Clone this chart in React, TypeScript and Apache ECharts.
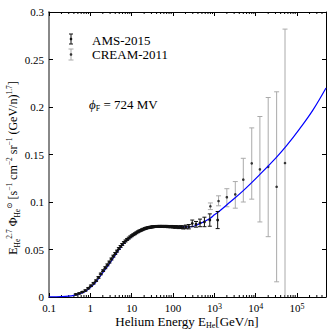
import React, { useEffect, useRef } from "react";
import * as echarts from "echarts";

// ---------- data ----------
// AMS-2015 helium (kinetic energy per nucleon, GeV/n)
const amsEnergy = [
  0.446, 0.537, 0.64, 0.758, 0.89, 1.033, 1.198, 1.375, 1.573, 1.793, 2.034, 2.296,
  2.585, 2.893, 3.234, 3.6, 3.998, 4.425, 4.894, 5.388, 5.907, 6.478, 7.098, 7.768,
  8.489, 9.261, 10.08, 10.98, 11.95, 12.97, 14.07, 15.25, 16.49, 17.84, 19.29, 20.84,
  22.49, 24.26, 26.16, 28.18, 30.36, 32.71, 35.23, 37.93, 40.83, 43.95, 47.33, 51.08,
  55.08, 59.33, 64.08, 69.58, 75.83, 82.83, 90.83, 99.83, 110.1, 122.1, 136.6, 154.1,
  176.3, 204.1, 240.6, 291.1, 359.8, 449.1, 574.1, 774.1, 1199,
];
const amsFlux = [
  0.0028, 0.0038, 0.0052, 0.0068, 0.0092, 0.0118, 0.0145, 0.0172, 0.0206, 0.0243, 0.0277, 0.0308,
  0.0338, 0.0368, 0.0400, 0.0430, 0.0458, 0.0483, 0.0510, 0.0532, 0.0553, 0.0573, 0.0590, 0.0606,
  0.0620, 0.0633, 0.0645, 0.0656, 0.0666, 0.0676, 0.0686, 0.0694, 0.0701, 0.0708, 0.0714, 0.0720,
  0.0725, 0.0729, 0.0732, 0.0735, 0.0737, 0.0739, 0.0741, 0.0742, 0.0743, 0.0743, 0.0744, 0.0743,
  0.0744, 0.0743, 0.0742, 0.0743, 0.0741, 0.0740, 0.0741, 0.0739, 0.0737, 0.0738, 0.0734, 0.0736,
  0.0733, 0.0738, 0.0740, 0.0775, 0.0765, 0.0780, 0.0790, 0.0810, 0.0810,
];
const amsErr = [
  0.0006, 0.0006, 0.0006, 0.0007, 0.0007, 0.0008, 0.0008, 0.0008, 0.0009, 0.0009, 0.0009, 0.0010,
  0.0010, 0.0010, 0.0010, 0.0010, 0.0010, 0.0010, 0.0010, 0.0010, 0.0010, 0.0010, 0.0010, 0.0010,
  0.0010, 0.0010, 0.0010, 0.0010, 0.0010, 0.0010, 0.0010, 0.0010, 0.0010, 0.0010, 0.0010, 0.0010,
  0.0010, 0.0010, 0.0010, 0.0010, 0.0010, 0.0010, 0.0010, 0.0010, 0.0010, 0.0010, 0.0010, 0.0010,
  0.0010, 0.0010, 0.0011, 0.0011, 0.0011, 0.0011, 0.0012, 0.0012, 0.0013, 0.0013, 0.0014, 0.0015,
  0.0017, 0.0019, 0.0023, 0.0035, 0.003, 0.004, 0.005, 0.0065, 0.009,
];

// CREAM-2011 helium
const creamEnergy = [800, 1260, 2000, 3200, 5000, 8000, 12600, 20000, 32000, 51000];
const creamFlux = [0.0955, 0.101, 0.105, 0.108, 0.1235, 0.1407, 0.1344, 0.137, 0.116, 0.141];
const creamLow = [0.092, 0.096, 0.095, 0.0935, 0.1, 0.103, 0.079, 0.0635, 0.016, -0.02];
const creamHigh = [0.099, 0.1065, 0.114, 0.1215, 0.146, 0.178, 0.19, 0.21, 0.216, 0.282];

// Force-field model curve (phi_F = 724 MV)
const modelEnergy = [
  0.1, 0.15, 0.2, 0.3, 0.4, 0.5, 0.74, 1.0, 1.3, 1.92, 3.0, 4.0, 5.0, 7.0, 10, 14, 21, 32,
  63, 126, 250, 457, 794, 1000, 1380, 2400, 5000, 12600, 31600, 55000, 115000, 243000, 500000,
];
const modelFlux = [
  0.00003, 0.0001, 0.0003, 0.0009, 0.0017, 0.0028, 0.0055, 0.01, 0.0145, 0.0245, 0.036, 0.044,
  0.05, 0.058, 0.0635, 0.068, 0.0715, 0.0732, 0.074, 0.0738, 0.0737, 0.0775, 0.083, 0.0865,
  0.091, 0.1, 0.112, 0.129, 0.147, 0.159, 0.177, 0.197, 0.22,
];

const xMin = 0.1;
const xMax = 500000;
const yMin = 0;
const yMax = 0.3;
const yStep = 0.05;

const SERIF = "'Liberation Serif', 'DejaVu Serif', serif";

export default function App() {
  const ref = useRef<HTMLDivElement>(null);

  useEffect(() => {
    if (!ref.current) return;
    const chart = echarts.init(ref.current, undefined, { renderer: "svg" });

    const amsData = amsEnergy.map((e, i) => [e, amsFlux[i], amsFlux[i] - amsErr[i], amsFlux[i] + amsErr[i]]);
    const creamData = creamEnergy.map((e, i) => [e, creamFlux[i], creamLow[i], creamHigh[i]]);
    const modelData = modelEnergy.map((e, i) => [e, modelFlux[i]]);

    // minor tick positions of the log axis (2..9 x 10^k)
    const minorTicks: number[][] = [];
    for (let k = -1; k <= 5; k++) {
      for (let m = 2; m <= 9; m++) {
        const v = m * Math.pow(10, k);
        if (v < xMax) minorTicks.push([v]);
      }
    }

    const errRender = (cap: number, barColor: string, dotColor: string, r: number) => (params: any, api: any) => {
      const x = api.value(0);
      const y = api.value(1);
      const lo = api.value(2);
      const hi = api.value(3);
      const p = api.coord([x, y]);
      const pl = api.coord([x, lo]);
      const ph = api.coord([x, hi]);
      const ls = { stroke: barColor, lineWidth: 1 };
      return {
        type: "group",
        children: [
          { type: "line", shape: { x1: pl[0], y1: pl[1], x2: ph[0], y2: ph[1] }, style: ls },
          { type: "line", shape: { x1: pl[0] - cap, y1: pl[1], x2: pl[0] + cap, y2: pl[1] }, style: ls },
          { type: "line", shape: { x1: ph[0] - cap, y1: ph[1], x2: ph[0] + cap, y2: ph[1] }, style: ls },
          { type: "circle", shape: { cx: p[0], cy: p[1], r }, style: { fill: dotColor } },
        ],
      };
    };

    const xLabel = (v: number) => {
      const lg = Math.log10(v);
      const k = Math.round(lg);
      if (Math.abs(lg - k) > 0.01) return "";
      if (k <= 2) return String(Number(Math.pow(10, k).toFixed(1)));
      return "10{sup|" + k + "}";
    };

    const xAxisBase = {
      type: "log",
      logBase: 10,
      min: xMin,
      max: xMax,
      interval: 1,
      splitNumber: 7,
      gridIndex: 0,
      splitLine: { show: false },
      axisLine: { show: true, onZero: false, lineStyle: { color: "#000", width: 1 } },
      axisTick: { show: true, inside: true, length: 4, lineStyle: { color: "#000", width: 1 } },
    };
    const yAxisBase = {
      type: "value",
      min: yMin,
      max: yMax,
      interval: yStep,
      gridIndex: 0,
      splitLine: { show: false },
      axisTick: { show: true, inside: true, length: 4, lineStyle: { color: "#000", width: 1 } },
    };

    chart.setOption({
      animation: false,
      backgroundColor: "#fff",
      grid: { left: 49, top: 12, width: 277, height: 285, containLabel: false },
      xAxis: [
        {
          ...xAxisBase,
          position: "bottom",
          axisLabel: {
            show: true,
            margin: 5,
            color: "#000",
            fontFamily: SERIF,
            fontSize: 11,
            showMaxLabel: false,
            formatter: xLabel,
            rich: {
              sup: { fontSize: 8, fontFamily: SERIF, color: "#000", verticalAlign: "top", lineHeight: 8 },
            },
          },
        },
        { ...xAxisBase, position: "top", axisLabel: { show: false } },
      ],
      yAxis: [
        {
          ...yAxisBase,
          position: "left",
          axisLine: { show: true, onZero: false, lineStyle: { color: "#888", width: 2 } },
          axisLabel: {
            show: true,
            margin: 5,
            color: "#000",
            fontFamily: SERIF,
            fontSize: 11,
            formatter: (v: number) => String(Math.round(v * 100) / 100),
          },
        },
        {
          ...yAxisBase,
          position: "right",
          axisLine: { show: true, onZero: false, lineStyle: { color: "#000", width: 1 } },
          axisLabel: { show: false },
        },
      ],
      series: [
        {
          type: "custom",
          name: "minorTicks",
          silent: true,
          xAxisIndex: 0,
          yAxisIndex: 0,
          data: minorTicks,
          encode: { x: 0 },
          renderItem: (params: any, api: any) => {
            const v = api.value(0);
            const b = api.coord([v, yMin]);
            const t = api.coord([v, yMax]);
            const ls = { stroke: "#000", lineWidth: 1 };
            return {
              type: "group",
              children: [
                { type: "line", shape: { x1: b[0], y1: b[1], x2: b[0], y2: b[1] - 2 }, style: ls },
                { type: "line", shape: { x1: t[0], y1: t[1], x2: t[0], y2: t[1] + 2 }, style: ls },
              ],
            };
          },
        },
        {
          type: "custom",
          name: "CREAM-2011",
          xAxisIndex: 0,
          yAxisIndex: 0,
          clip: true,
          data: creamData,
          encode: { x: 0, y: [1, 2, 3] },
          renderItem: errRender(2.5, "#aaaaaa", "#333", 1.3),
          z: 3,
        },
        {
          type: "line",
          name: "model",
          xAxisIndex: 0,
          yAxisIndex: 0,
          data: modelData,
          smooth: 0.4,
          showSymbol: false,
          lineStyle: { color: "#0000ff", width: 1.2 },
          z: 4,
        },
        {
          type: "custom",
          name: "AMS-2015",
          xAxisIndex: 0,
          yAxisIndex: 0,
          clip: true,
          data: amsData,
          encode: { x: 0, y: [1, 2, 3] },
          renderItem: errRender(2, "#111", "#111", 1.4),
          z: 5,
        },
      ],
      graphic: [
        // legend
        { type: "line", shape: { x1: 71, y1: 34, x2: 71, y2: 44 }, style: { stroke: "#111", lineWidth: 1 } },
        { type: "line", shape: { x1: 69, y1: 34, x2: 73, y2: 34 }, style: { stroke: "#111", lineWidth: 1 } },
        { type: "line", shape: { x1: 69, y1: 44, x2: 73, y2: 44 }, style: { stroke: "#111", lineWidth: 1 } },
        { type: "circle", shape: { cx: 71, cy: 39, r: 1.3 }, style: { fill: "#111" } },
        {
          type: "text",
          x: 92,
          y: 40,
          style: { text: "AMS-2015", font: "13px " + SERIF, fill: "#000", verticalAlign: "middle", align: "left" },
        },
        { type: "line", shape: { x1: 71, y1: 49, x2: 71, y2: 60 }, style: { stroke: "#aaa", lineWidth: 1 } },
        { type: "line", shape: { x1: 68.5, y1: 49, x2: 73.5, y2: 49 }, style: { stroke: "#aaa", lineWidth: 1 } },
        { type: "line", shape: { x1: 68.5, y1: 60, x2: 73.5, y2: 60 }, style: { stroke: "#aaa", lineWidth: 1 } },
        { type: "circle", shape: { cx: 71, cy: 54.5, r: 1.3 }, style: { fill: "#333" } },
        {
          type: "text",
          x: 92,
          y: 54,
          style: { text: "CREAM-2011", font: "13px " + SERIF, fill: "#000", verticalAlign: "middle", align: "left" },
        },
        // annotation
        {
          type: "text",
          x: 89,
          y: 104,
          style: {
            text: "{i|ϕ}{sub|F}{n| = 724 MV}",
            verticalAlign: "middle",
            align: "left",
            fill: "#000",
            rich: {
              i: { fontFamily: SERIF, fontSize: 13, fontStyle: "italic", lineHeight: 16 },
              sub: { fontFamily: SERIF, fontSize: 8, verticalAlign: "bottom", lineHeight: 16 },
              n: { fontFamily: SERIF, fontSize: 13, lineHeight: 16 },
            },
          },
        },
        // x-axis title
        {
          type: "text",
          x: 187,
          y: 321,
          style: {
            text: "{n|Helium Energy E}{sub|He}{n|[GeV/n]}",
            align: "center",
            verticalAlign: "middle",
            fill: "#000",
            rich: {
              n: { fontFamily: SERIF, fontSize: 13, lineHeight: 16 },
              sub: { fontFamily: SERIF, fontSize: 8, verticalAlign: "bottom", lineHeight: 14 },
            },
          },
        },
        // y-axis title
        {
          type: "text",
          x: 13,
          y: 168,
          rotation: Math.PI / 2,
          style: {
            text:
              "{n|E}{sub|He}{sup|2.7}{n| Φ}{sub|He}{sup|⊙}{n| [s}{sup|−1}{n| cm}{sup|−2}{n| sr}{sup|−1}{n| (GeV/n)}{sup|1.7}{n|]}",
            align: "center",
            verticalAlign: "middle",
            fill: "#000",
            rich: {
              n: { fontFamily: SERIF, fontSize: 12, lineHeight: 16 },
              sub: { fontFamily: SERIF, fontSize: 7.5, verticalAlign: "bottom", lineHeight: 14 },
              sup: { fontFamily: SERIF, fontSize: 7.5, verticalAlign: "top", lineHeight: 10 },
            },
          },
        },
      ],
    });

    return () => chart.dispose();
  }, []);

  return (
    <div
      ref={ref}
      style={{ position: "fixed", left: 0, top: 0, width: 332, height: 334, background: "#fff" }}
    />
  );
}
